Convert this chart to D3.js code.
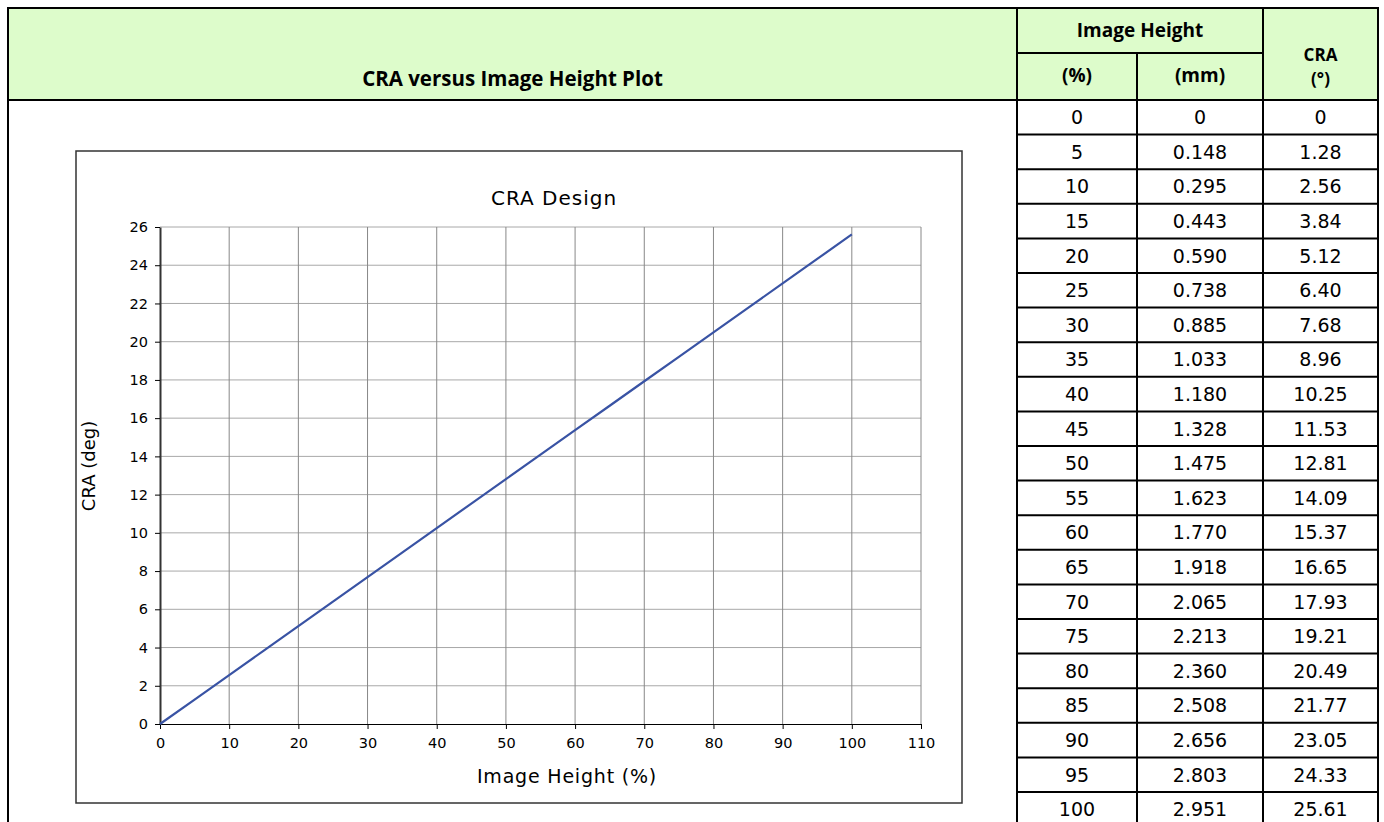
<!DOCTYPE html>
<html>
<head>
<meta charset="utf-8">
<script src="https://cdn.jsdelivr.net/npm/d3@7"></script>
<style>
  body { margin: 0; background: #fff; }
  svg text { font-family: "DejaVu Sans", sans-serif; fill: #000; }
</style>
</head>
<body>
<script>
var imageHeightPct = [0, 5, 10, 15, 20, 25, 30, 35, 40, 45, 50, 55, 60, 65, 70, 75, 80, 85, 90, 95, 100]
var imageHeightMm = [0, 0.148, 0.295, 0.443, 0.590, 0.738, 0.885, 1.033, 1.180, 1.328, 1.475,
    1.623, 1.770, 1.918, 2.065, 2.213, 2.360, 2.508, 2.656, 2.803, 2.951]
var craDeg = [0, 1.28, 2.56, 3.84, 5.12, 6.40, 7.68, 8.96, 10.25, 11.53, 12.81,
    14.09, 15.37, 16.65, 17.93, 19.21, 20.49, 21.77, 23.05, 24.33, 25.61]
var xTicks = [0, 10, 20, 30, 40, 50, 60, 70, 80, 90, 100, 110]
var yTicks = [0, 2, 4, 6, 8, 10, 12, 14, 16, 18, 20, 22, 24, 26]

var headerTitle = 'CRA versus Image Height Plot'
var chartTitle = 'CRA  Design'
var xTitle = 'Image Height (%)'
var yTitle = 'CRA (deg)'

var W = 1384, H = 822
var green = '#ddfccb'

var svg = d3.select('body').append('svg')
    .attr('width', W)
    .attr('height', H)

// ---- outer sheet layout
var sheetL = 8, sheetT = 8, sheetR = 1378, headBottom = 100
var colX = [1017, 1137, 1263, 1378]
var rowH = 34.6

svg.append('rect')
    .attr('x', sheetL).attr('y', sheetT)
    .attr('width', sheetR - sheetL).attr('height', headBottom - sheetT)
    .attr('fill', green)

svg.append('text')
    .attr('x', (sheetL + colX[0]) / 2)
    .attr('y', 86)
    .attr('text-anchor', 'middle')
    .style('font-family', '"Open Sans", sans-serif')
    .style('font-weight', 700)
    .style('font-size', '20.5px')
    .text(headerTitle)

// table header texts
var headFont = function (sel, size) {
    sel.attr('text-anchor', 'middle')
        .style('font-family', '"Open Sans", sans-serif')
        .style('font-weight', 700)
        .style('font-size', (size || 19) + 'px')
}
svg.append('text').attr('x', (colX[0] + colX[2]) / 2).attr('y', 37).call(headFont).text('Image Height')
svg.append('text').attr('x', (colX[0] + colX[1]) / 2).attr('y', 82).call(headFont).text('(%)')
svg.append('text').attr('x', (colX[1] + colX[2]) / 2).attr('y', 82).call(headFont).text('(mm)')
svg.append('text').attr('x', (colX[2] + colX[3]) / 2).attr('y', 61).call(headFont, 17).text('CRA')
svg.append('text').attr('x', (colX[2] + colX[3]) / 2).attr('y', 85).call(headFont, 17).text('(°)')

// table body
var fmtMm = d3.format('.3f'), fmtCra = d3.format('.2f')
var rows = svg.append('g').selectAll('g')
    .data(imageHeightPct)
    .enter()
    .append('g')
    .attr('transform', function (d, i) { return 'translate(0,' + (headBottom + i * rowH) + ')' })

rows.append('line')
    .attr('x1', colX[0]).attr('x2', sheetR)
    .attr('y1', rowH).attr('y2', rowH)
    .attr('stroke', '#000').attr('stroke-width', 2)

var cells = function (sel, x, fn) {
    sel.append('text')
        .attr('x', x)
        .attr('y', rowH / 2 + 7)
        .attr('text-anchor', 'middle')
        .style('font-size', '19px')
        .text(fn)
}
rows.call(cells, (colX[0] + colX[1]) / 2, function (d) { return d })
rows.call(cells, (colX[1] + colX[2]) / 2, function (d, i) { return i === 0 ? '0' : fmtMm(imageHeightMm[i]) })
rows.call(cells, (colX[2] + colX[3]) / 2, function (d, i) { return i === 0 ? '0' : fmtCra(craDeg[i]) })

// borders
var border = svg.append('g').attr('stroke', '#000').attr('stroke-width', 2)
border.append('line').attr('x1', sheetL - 1).attr('x2', sheetR + 1).attr('y1', sheetT).attr('y2', sheetT)
border.append('line').attr('x1', sheetL - 1).attr('x2', sheetR + 1).attr('y1', headBottom).attr('y2', headBottom)
border.append('line').attr('x1', colX[0]).attr('x2', colX[2]).attr('y1', 53).attr('y2', 53)
border.append('line').attr('x1', sheetL).attr('x2', sheetL).attr('y1', sheetT).attr('y2', H)
colX.forEach(function (x, i) {
    border.append('line')
        .attr('x1', x).attr('x2', x)
        .attr('y1', i === 1 ? 53 : sheetT).attr('y2', H)
})

// ---- chart
svg.append('rect')
    .attr('x', 76).attr('y', 151)
    .attr('width', 886).attr('height', 652)
    .attr('fill', '#fff')
    .attr('stroke', '#333').attr('stroke-width', 1.5)

var x = d3.scaleLinear().domain([0, 110]).range([160, 921])
var y = d3.scaleLinear().domain([0, 26]).range([724, 227])

var grid = svg.append('g')
grid.selectAll('line.h')
    .data(yTicks.slice(1))
    .enter()
    .append('line')
    .attr('class', 'h')
    .attr('x1', x(0)).attr('x2', x(110))
    .attr('y1', function (d) { return y(d) })
    .attr('y2', function (d) { return y(d) })
    .attr('stroke', '#a8a8a8').attr('stroke-width', 1)
grid.selectAll('line.v')
    .data(xTicks.slice(1))
    .enter()
    .append('line')
    .attr('class', 'v')
    .attr('x1', function (d) { return x(d) })
    .attr('x2', function (d) { return x(d) })
    .attr('y1', y(26)).attr('y2', y(0))
    .attr('stroke', '#888').attr('stroke-width', 1)

var xAxis = svg.append('g')
    .attr('transform', 'translate(0,' + y(0) + ')')
    .call(d3.axisBottom(x).tickValues(xTicks).tickSize(5).tickPadding(9).tickSizeOuter(0))
xAxis.select('.domain').attr('stroke', '#000')
xAxis.selectAll('.tick line').attr('stroke', '#000')
xAxis.selectAll('text')
    .style('font-family', '"DejaVu Sans", sans-serif')
    .style('font-size', '14.5px')

var yAxis = svg.append('g')
    .attr('transform', 'translate(' + x(0) + ',0)')
    .call(d3.axisLeft(y).tickValues(yTicks).tickSize(5).tickPadding(7).tickSizeOuter(0))
yAxis.select('.domain').attr('stroke', '#333').attr('stroke-width', 2)
yAxis.selectAll('.tick line').attr('stroke', '#000')
yAxis.selectAll('text')
    .style('font-family', '"DejaVu Sans", sans-serif')
    .style('font-size', '14.5px')

var line = d3.line()
    .x(function (d, i) { return x(imageHeightPct[i]) })
    .y(function (d) { return y(d) })

svg.append('path')
    .datum(craDeg)
    .attr('d', line)
    .attr('fill', 'none')
    .attr('stroke', '#3953a4')
    .attr('stroke-width', 2.2)

svg.append('text')
    .attr('x', 554).attr('y', 205)
    .attr('text-anchor', 'middle')
    .style('font-size', '20px')
    .style('letter-spacing', '1px')
    .text(chartTitle)

svg.append('text')
    .attr('x', 567).attr('y', 783)
    .attr('text-anchor', 'middle')
    .style('font-size', '19px')
    .style('letter-spacing', '0.8px')
    .text(xTitle)

svg.append('text')
    .attr('transform', 'translate(95,466) rotate(-90)')
    .attr('text-anchor', 'middle')
    .style('font-size', '18px')
    .text(yTitle)
</script>
</body>
</html>
